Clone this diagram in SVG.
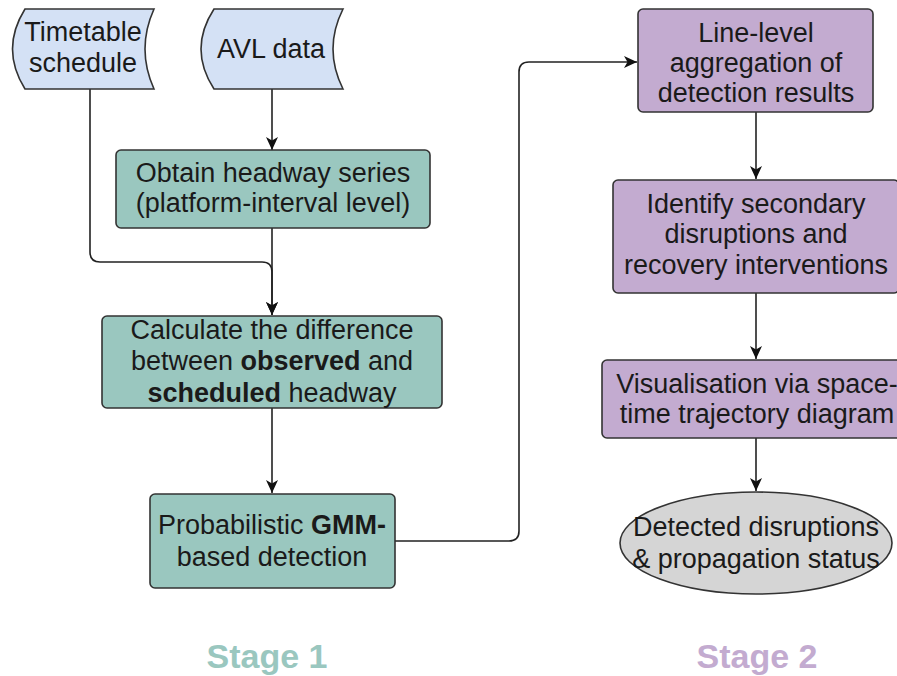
<svg xmlns="http://www.w3.org/2000/svg" width="897" height="676" viewBox="0 0 897 676">
<style>
.t{font-family:"Liberation Sans",Arial,sans-serif;font-size:27px;fill:#1a1a1a;text-anchor:middle}
.b{font-weight:bold}
.teal{fill:#9ac7bf;stroke:#333;stroke-width:1.6}
.purp{fill:#c3abd0;stroke:#333;stroke-width:1.6}
.data{fill:#d4e1f5;stroke:#333;stroke-width:1.6}
.gray{fill:#d5d5d5;stroke:#333;stroke-width:1.6}
.edge{fill:none;stroke:#222;stroke-width:1.6;marker-end:url(#arr)}
.stage{font-family:"Liberation Sans",Arial,sans-serif;font-size:34px;font-weight:bold;text-anchor:middle}
</style>
<defs>
<marker id="arr" markerUnits="userSpaceOnUse" markerWidth="14" markerHeight="14" refX="13" refY="7" orient="auto">
<path d="M0,1 L13,7 L0,13 L3.5,7 Z" fill="#111"/>
</marker>
</defs>
<rect width="897" height="676" fill="#fff"/>
<g id="connectors">
<path class="edge" d="M272,89 V150"/>
<path class="edge" d="M90,89 V252 Q90,262 100,262 H262 Q272,262 272,272 V315"/>
<path class="edge" d="M272,228 V315"/>
<path class="edge" d="M272,408 V493"/>
<path class="edge" d="M395,541 H509 Q519,541 519,531 V72 Q519,62 529,62 H637"/>
<path class="edge" d="M756,112 V179"/>
<path class="edge" d="M756,293 V359"/>
<path class="edge" d="M756,438 V491"/>
</g>
<g id="timetable">
<path class="data" d="M25,9 L154,9 Q136,49 154,89 L25,89 Q0,49 25,9 Z"/>
<text class="t" x="83" y="41">Timetable</text>
<text class="t" x="83" y="72">schedule</text>
</g>
<g id="avl">
<path class="data" d="M214,9 L343,9 Q323,49 343,89 L214,89 Q188,49 214,9 Z"/>
<text class="t" x="271" y="58">AVL data</text>
</g>
<g id="obtain">
<rect class="teal" x="116" y="150" width="314" height="78" rx="5"/>
<text class="t" x="273" y="182">Obtain headway series</text>
<text class="t" x="273" y="212">(platform-interval level)</text>
</g>
<g id="calculate">
<rect class="teal" x="102" y="316" width="340" height="92" rx="5"/>
<text class="t" x="272" y="339">Calculate the difference</text>
<text class="t" x="272" y="370">between <tspan class="b">observed</tspan> and</text>
<text class="t" x="272" y="402"><tspan class="b">scheduled</tspan> headway</text>
</g>
<g id="gmm">
<rect class="teal" x="150" y="494" width="245" height="94" rx="5"/>
<text class="t" x="272" y="534">Probabilistic <tspan class="b">GMM-</tspan></text>
<text class="t" x="272" y="566">based detection</text>
</g>
<g id="lineagg">
<rect class="purp" x="638" y="9" width="235" height="103" rx="5"/>
<text class="t" x="756" y="42">Line-level</text>
<text class="t" x="756" y="72">aggregation of</text>
<text class="t" x="756" y="102">detection results</text>
</g>
<g id="identify">
<rect class="purp" x="613" y="180" width="286" height="113" rx="5"/>
<text class="t" x="756" y="213">Identify secondary</text>
<text class="t" x="756" y="243">disruptions and</text>
<text class="t" x="756" y="274">recovery interventions</text>
</g>
<g id="visual">
<rect class="purp" x="602" y="360" width="310" height="78" rx="5"/>
<text class="t" x="757" y="393">Visualisation via space-</text>
<text class="t" x="757" y="423">time trajectory diagram</text>
</g>
<g id="detected">
<ellipse class="gray" cx="756" cy="543" rx="136" ry="51"/>
<text class="t" x="756" y="536">Detected disruptions</text>
<text class="t" x="756" y="568">&amp; propagation status</text>
</g>
<text class="stage" x="267" y="668" fill="#9ac7bf">Stage 1</text>
<text class="stage" x="757" y="668" fill="#c3abd0">Stage 2</text>
</svg>
